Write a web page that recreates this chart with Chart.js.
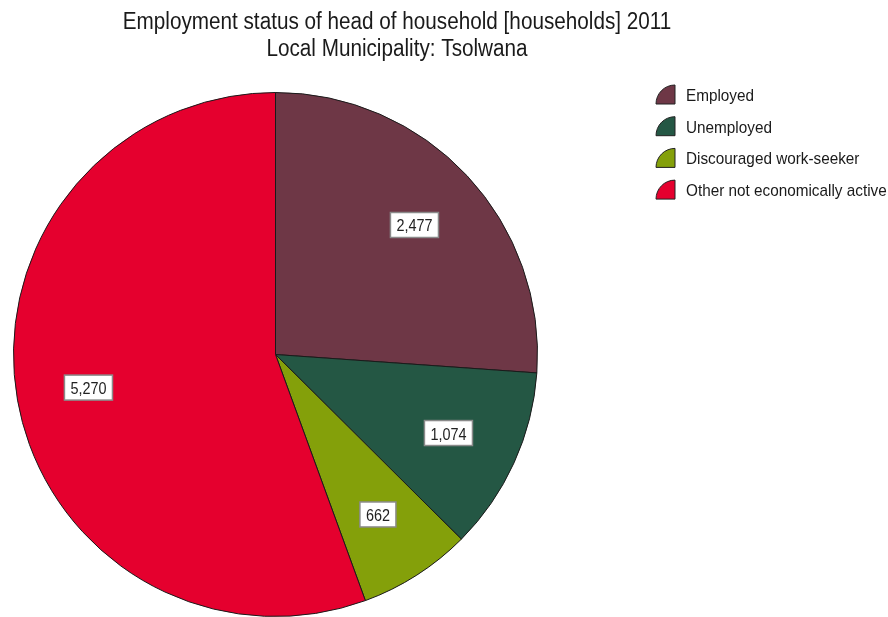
<!DOCTYPE html>
<html>
<head>
<meta charset="utf-8">
<script src="https://cdn.jsdelivr.net/npm/chart.js@4.4.1/dist/chart.umd.min.js"></script>
<style>
  html, body { margin: 0; padding: 0; background: #fff; }
  #chart { display: block; }
</style>
</head>
<body>
<canvas id="chart" width="888" height="617"></canvas>
<script>
// employment status of household heads, Tsolwana 2011
var categories = ['Employed', 'Unemployed', 'Discouraged work-seeker', 'Other not economically active'];
var households = [2477, 1074, 662, 5270];
var sliceColors = ['#6e3746', '#245744', '#84a00a', '#e5002e'];
var titleLines = ['Employment status of head of household [households] 2011', 'Local Municipality: Tsolwana'];

var FONT = '"Liberation Sans", Arial, sans-serif';
var NARROW = 0.9; // horizontal squeeze to get a narrow-looking face

function narrowText(ctx, txt, x, y) {
  ctx.save();
  ctx.translate(x, y);
  ctx.scale(NARROW, 1);
  ctx.fillText(txt, 0, 0);
  ctx.restore();
}

// title, legend with quarter-pie markers and boxed value labels
var decorations = {
  id: 'decorations',
  afterDraw: function(chart) {
    var ctx = chart.ctx;
    ctx.save();
    ctx.textBaseline = 'alphabetic';

    // title
    ctx.fillStyle = '#1a1a1a';
    ctx.font = '23px ' + FONT;
    ctx.textAlign = 'center';
    narrowText(ctx, titleLines[0], 397, 29);
    narrowText(ctx, titleLines[1], 397, 56);

    // legend
    ctx.font = '17px ' + FONT;
    ctx.textAlign = 'left';
    categories.forEach(function(name, i) {
      var base = 101 + i * 31.7;
      var mx = 675, my = base + 3, r = 19;
      ctx.beginPath();
      ctx.moveTo(mx, my);
      ctx.lineTo(mx - r, my);
      ctx.arc(mx, my, r, Math.PI, Math.PI * 1.5);
      ctx.closePath();
      ctx.fillStyle = sliceColors[i];
      ctx.fill();
      ctx.lineWidth = 1;
      ctx.strokeStyle = '#222';
      ctx.stroke();
      ctx.fillStyle = '#1a1a1a';
      narrowText(ctx, name, 686, base);
    });

    // value labels
    var meta = chart.getDatasetMeta(0);
    ctx.font = '16px ' + FONT;
    ctx.textAlign = 'center';
    meta.data.forEach(function(arc, i) {
      var p = arc.getProps(['x', 'y', 'startAngle', 'endAngle', 'outerRadius'], true);
      var mid = (p.startAngle + p.endAngle) / 2;
      var d = p.outerRadius * 0.725;
      var x = p.x + Math.cos(mid) * d;
      var y = p.y + Math.sin(mid) * d;
      var txt = households[i].toLocaleString('en-US');
      var w = ctx.measureText(txt).width * NARROW + 12;
      var h = 25;
      ctx.fillStyle = '#ffffff';
      ctx.fillRect(x - w / 2, y - h / 2, w, h);
      ctx.strokeStyle = '#8a8a8a';
      ctx.lineWidth = 1.5;
      ctx.strokeRect(x - w / 2, y - h / 2, w, h);
      ctx.fillStyle = '#222';
      narrowText(ctx, txt, x, y + 6.5);
    });

    ctx.restore();
  }
};

new Chart(document.getElementById('chart'), {
  type: 'pie',
  data: {
    labels: categories,
    datasets: [{
      data: households,
      backgroundColor: sliceColors,
      borderColor: '#1a1a1a',
      borderWidth: 1
    }]
  },
  options: {
    responsive: false,
    animation: false,
    layout: { padding: { top: 92, bottom: 0, left: 13, right: 350 } },
    plugins: {
      legend: { display: false },
      title: { display: false },
      tooltip: { enabled: false }
    }
  },
  plugins: [decorations]
});
</script>
</body>
</html>
